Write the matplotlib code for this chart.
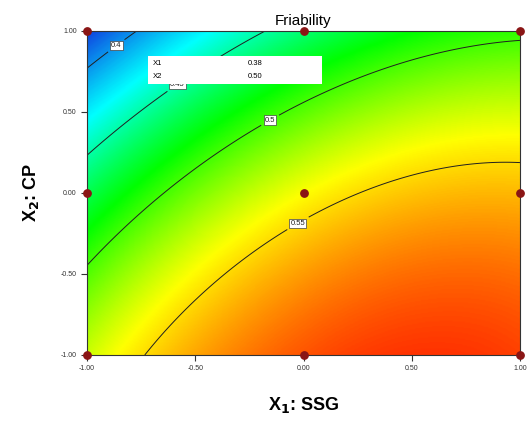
import matplotlib
matplotlib.use("Agg")
import matplotlib.pyplot as plt
import numpy as np
from matplotlib.colors import LinearSegmentedColormap
from matplotlib.patches import Rectangle

plt.rcParams['font.family'] = ['Liberation Sans', 'DejaVu Sans']

# fitted quadratic model:
# F = b0 + b1*X1 + b2*X2 + b12*X1*X2 + b11*X1^2 + b22*X2^2
coef_names = ['b0', 'b1', 'b2', 'b12', 'b11', 'b22']
coef_vals = [0.540, 0.0454, -0.0626, 0.0144, -0.0258, -0.016]

contour_levels = [0.40, 0.45, 0.50, 0.55]
contour_labels = ['0.4', '0.45', '0.5', '0.55']
label_pos = [(-0.86, 0.90), (-0.57, 0.648), (-0.155, 0.451), (-0.02, -0.20)]

# design points (face-centred design)
design_x1 = [-1, 0, 1, -1, 0, 1, -1, 0, 1]
design_x2 = [1, 1, 1, 0, 0, 0, -1, -1, -1]

ticks = [-1.0, -0.5, 0.0, 0.5, 1.0]
tick_labels = ['-1.00', '-0.50', '0.00', '0.50', '1.00']

legend_names = ['X1', 'X2']
legend_vals = ['0.38', '0.50']

c = dict(zip(coef_names, coef_vals))
g = np.linspace(-1, 1, 301)
X1, X2 = np.meshgrid(g, g)
F = (c['b0'] + c['b1'] * X1 + c['b2'] * X2 + c['b12'] * X1 * X2
     + c['b11'] * X1 ** 2 + c['b22'] * X2 ** 2)

cmap = LinearSegmentedColormap.from_list(
    'de', ['#1040e0', '#00ffff', '#00ff00', '#ffff00', '#ff3300'])

fig = plt.figure(figsize=(5.29, 4.23), dpi=100)
ax = fig.add_axes([0.1645, 0.1608, 0.8185, 0.766])

ax.imshow(F, extent=(-1, 1, -1, 1), origin='lower', cmap=cmap,
          aspect='auto', interpolation='bilinear')
cs = ax.contour(X1, X2, F, levels=contour_levels, colors='#202020', linewidths=0.7)
fmt = dict(zip(contour_levels, contour_labels))
cl = ax.clabel(cs, fmt=fmt, fontsize=5.5, inline=True, manual=label_pos)
for t in cl:
    t.set_rotation(0)
    t.set_bbox(dict(facecolor='white', edgecolor='#404040', pad=0.8, linewidth=0.5))

ax.scatter(design_x1, design_x2, s=28, color='#8a1515', zorder=5, clip_on=False)

# info box
ax.add_patch(Rectangle((0.141, 0.836), 0.402, 0.087, transform=ax.transAxes,
                       facecolor='white', edgecolor='none', zorder=6))
for i, (n, v) in enumerate(zip(legend_names, legend_vals)):
    y = 0.900 - i * 0.04
    ax.text(0.152, y, n, transform=ax.transAxes, fontsize=5.5, va='center', zorder=7)
    ax.text(0.372, y, v, transform=ax.transAxes, fontsize=5.5, va='center', zorder=7)

ax.set_xlim(-1, 1)
ax.set_ylim(-1, 1)
ax.set_xticks(ticks)
ax.set_xticklabels(tick_labels)
ax.set_yticks(ticks)
ax.set_yticklabels(tick_labels)
ax.tick_params(direction='out', length=4, width=0.8, labelsize=5, colors='#333333')
for s in ax.spines.values():
    s.set_color('#333333')
    s.set_linewidth(0.8)

ax.set_title('Friability', fontsize=11, pad=4, x=0.5)
ax.set_xlabel('X$_\\mathbf{1}$: SSG', fontsize=13, fontweight='bold', labelpad=16)
ax.set_ylabel('X$_\\mathbf{2}$: CP', fontsize=13, fontweight='bold', labelpad=14)

fig.savefig('out.png', dpi=100)
